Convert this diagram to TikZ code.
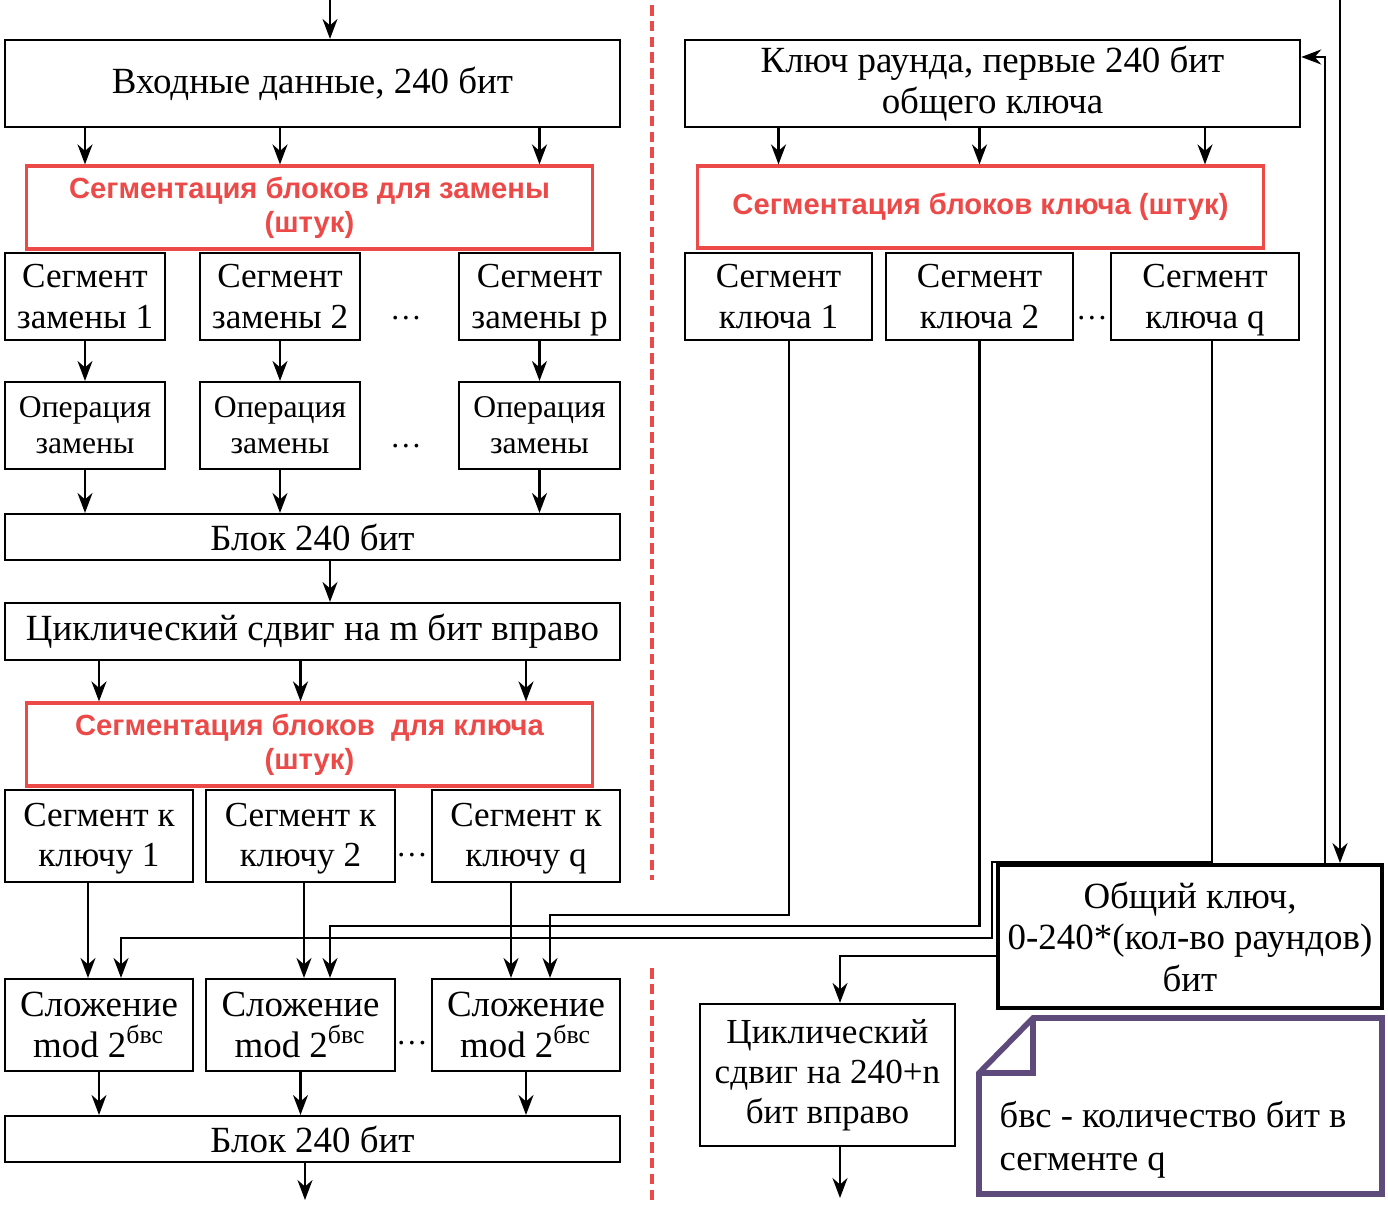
\documentclass[tikz,border=0pt]{standalone}
\usepackage{fontspec}
\setmainfont{Liberation Serif}
\newfontfamily\segfont{Liberation Sans}
\usetikzlibrary{arrows.meta,positioning,calc}
\definecolor{segred}{HTML}{EB4A48}
\definecolor{notepurple}{HTML}{5E4B7C}

\begin{document}
\begin{tikzpicture}[x=0.01cm,y=-0.01cm,
    box/.style={draw, line width=0.6pt, align=center, inner sep=0pt, font=\fontsize{10}{11.4}\selectfont},
    bigbox/.style={box, font=\fontsize{10.5}{11.8}\selectfont},
    smallbox/.style={box, font=\fontsize{9}{10.3}\selectfont},
    segbox/.style={draw=segred, line width=0.9pt, align=center, inner sep=0pt, text=segred, font=\segfont\bfseries\fontsize{8.3}{9.7}\selectfont},
    arr/.style={-{Stealth[length=2mm,width=1.5mm]}, line width=0.6pt},
    dots/.style={inner sep=0pt, font=\fontsize{9}{10}\selectfont},
    reddash/.style={draw=segred, line width=1.1pt, dash pattern=on 3pt off 1.5pt}]
\useasboundingbox (0,0) rectangle (1388,1205);

% left column: substitution
\node[bigbox, minimum width=6.15cm, minimum height=0.87cm] (inp) at (312.5,83.5) {Входные данные, 240 бит};
\node[segbox, minimum width=5.65cm, minimum height=0.83cm] (seg1) at (309.5,207.5) {Сегментация блоков для замены\\(штук)};

\node[box, minimum width=1.6cm, minimum height=0.87cm] (sz1) at (85,296.5) {Сегмент\\замены 1};
\node[box, minimum width=1.6cm, minimum height=0.87cm] (sz2) at (280,296.5) {Сегмент\\замены 2};
\node[box, minimum width=1.61cm, minimum height=0.87cm] (szp) at (539.5,296.5) {Сегмент\\замены \smash{p}};
\node[dots] at (406,318) {…};

\node[smallbox, minimum width=1.6cm, minimum height=0.87cm] (op1) at (85,425.5) {Операция\\замены};
\node[smallbox, minimum width=1.6cm, minimum height=0.87cm] (op2) at (280,425.5) {Операция\\замены};
\node[smallbox, minimum width=1.61cm, minimum height=0.87cm] (opp) at (539.5,425.5) {Операция\\замены};
\node[dots] at (406,446) {…};

\node[bigbox, minimum width=6.15cm, minimum height=0.46cm] (blk1) at (312.5,537) {Блок 240 бит};
\node[bigbox, minimum width=6.15cm, minimum height=0.57cm] (shift) at (312.5,631.5) {Циклический сдвиг на m бит вправо};
\node[segbox, minimum width=5.65cm, minimum height=0.83cm] (seg2) at (309.5,744.5) {Сегментация блоков \ для ключа\\(штук)};

% left column: key addition
\node[box, minimum width=1.88cm, minimum height=0.92cm] (sk1) at (99,836) {\strut Сегмент к\\ключу 1};
\node[box, minimum width=1.89cm, minimum height=0.92cm] (sk2) at (300.5,836) {\strut Сегмент к\\ключу 2};
\node[box, minimum width=1.88cm, minimum height=0.92cm] (skq) at (526,836) {\strut Сегмент к\\ключу q};
\node[dots] at (412,855) {…};

\node[bigbox, minimum width=1.88cm, minimum height=0.92cm] (add1) at (99,1025) {Сложение\\mod 2\textsuperscript{бвс}};
\node[bigbox, minimum width=1.89cm, minimum height=0.92cm] (add2) at (300.5,1025) {Сложение\\mod 2\textsuperscript{бвс}};
\node[bigbox, minimum width=1.88cm, minimum height=0.92cm] (add3) at (526,1025) {Сложение\\mod 2\textsuperscript{бвс}};
\node[dots] at (412,1043) {…};

\node[bigbox, minimum width=6.15cm, minimum height=0.46cm] (blk2) at (312.5,1139) {Блок 240 бит};

% right column: key schedule
\node[bigbox, minimum width=6.15cm, minimum height=0.87cm] (key) at (992.5,83.5) {Ключ раунда, первые 240 бит\\общего ключа};
\node[segbox, minimum width=5.65cm, minimum height=0.82cm] (seg3) at (980.5,207) {Сегментация блоков ключа (штук)};

\node[box, minimum width=1.87cm, minimum height=0.87cm] (kk1) at (778.5,296.5) {Сегмент\\ключа 1};
\node[box, minimum width=1.87cm, minimum height=0.87cm] (kk2) at (979.5,296.5) {Сегмент\\ключа 2};
\node[box, minimum width=1.88cm, minimum height=0.87cm] (kkq) at (1205,296.5) {Сегмент\\ключа \smash{q}};
\node[dots] at (1092,318) {…};

\node[bigbox, line width=1.1pt, minimum width=3.84cm, minimum height=1.43cm] (gen) at (1190,936.5) {Общий ключ,\\0-240*(кол-во раундов)\\бит};
\node[box, minimum width=2.55cm, minimum height=1.42cm] (cyc) at (827.5,1075) {Циклический\\сдвиг на 240+n\\бит вправо};

% note
\draw[notepurple, line width=1.6pt, line join=miter]
  (979,1073) -- (1033,1018) -- (1382,1018) -- (1382,1194) -- (979,1194) -- cycle;
\draw[notepurple, line width=1.6pt] (1033,1018) -- (1033,1073) -- (979,1073);
\node[anchor=north west, align=left, inner sep=0pt, font=\fontsize{10.4}{12.2}\selectfont] (notetxt) at (999,1101)
  {бвс - количество бит в\\сегменте q};

% separators
\draw[reddash] (652,5) -- (652,880);
\draw[reddash] (652,968) -- (652,1205);

% connectors, left
\coordinate (topin) at (330,0);
\draw[arr] (topin) -- (topin |- inp.north);
\foreach \s in {sz1,sz2,szp}
  \draw[arr] (inp.south -| \s.north) -- (seg1.north -| \s.north);
\draw[arr] (sz1) -- (op1);
\draw[arr] (sz2) -- (op2);
\draw[arr] (szp) -- (opp);
\foreach \s in {op1,op2,opp}
  \draw[arr] (\s.south) -- (\s.south |- blk1.north);
\draw[arr] (blk1.south -| topin) -- (shift.north -| topin);
\foreach \s in {sk1,sk2,skq}
  \draw[arr] (shift.south -| \s.north) -- (seg2.north -| \s.north);
\draw[arr] ([xshift=-1.1mm]sk1.south) -- ([xshift=-1.1mm]add1.north);
\draw[arr] ([xshift=0.35mm]sk2.south) -- ([xshift=0.35mm]add2.north);
\draw[arr] ([xshift=-1.5mm]skq.south) -- ([xshift=-1.5mm]add3.north);
\foreach \s in {add1,add2,add3}
  \draw[arr] (\s.south) -- (\s.south |- blk2.north);
\coordinate (outL) at (305,1200);
\draw[arr] (blk2.south -| outL) -- (outL);

% connectors, right
\foreach \s in {kk1,kk2,kkq}
  \draw[arr] (key.south -| \s.north) -- (seg3.north -| \s.north);
\draw[arr] ([xshift=1.05mm]kk1.south) |- ([xshift=2.4mm,yshift=6.3mm]add3.north) -- ([xshift=2.4mm]add3.north);
\draw[arr] (kk2.south) |- ([xshift=2.95mm,yshift=5.2mm]add2.north) -- ([xshift=2.95mm]add2.north);
\draw[arr] ([xshift=0.7mm]kkq.south) -- ++(0,521) -- ++(-220,0) -- ++(0,76) -| ([xshift=2.2mm]add1.north);
\coordinate (topgen) at (1340,0);
\draw[arr] (topgen) -- (topgen |- gen.north);
\draw[arr] ([xshift=13.5mm]gen.north) |- ([yshift=2.65mm]key.east);
\draw[arr] ([yshift=-1.95mm]gen.west) -| ([xshift=1.25mm]cyc.north);
\coordinate (outR) at (840,1198);
\draw[arr] (cyc.south -| outR) -- (outR);
\end{tikzpicture}
\end{document}
